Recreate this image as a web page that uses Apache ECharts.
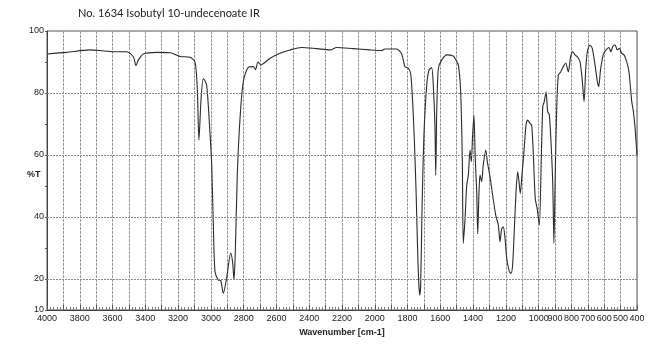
<!DOCTYPE html>
<html>
<head>
<meta charset="utf-8">
<script src="https://cdn.jsdelivr.net/npm/echarts@6/dist/echarts.min.js"></script>
<style>
html,body{margin:0;padding:0;background:#fff;}
#chart{width:650px;height:351px;}
</style>
</head>
<body>
<div id="chart"></div>
<script>
// Wavenumbers (cm-1) and transmittance (%T)
var wavenumbers = [4000,3880,3738,3677,3595,3514,3473,3457,3443,3412,3331,3250,3188,3127,3097,3083,3073,3060,3046,3026,3005,2995,2985,2975,2955,2940,2924,2904,2879,2867,2859,2851,2839,2822,2802,2772,2741,2728,2713,2694,2680,2639,2578,2517,2446,2354,2273,2232,2131,2029,1958,1938,1866,1836,1816,1796,1781,1769,1759,1748,1740,1732,1726,1720,1712,1700,1683,1669,1653,1643,1633,1628,1622,1612,1592,1561,1521,1511,1490,1476,1466,1460,1449,1439,1429,1419,1411,1403,1395,1387,1378,1372,1364,1358,1348,1338,1323,1313,1297,1281,1262,1246,1236,1226,1216,1205,1195,1179,1169,1159,1149,1138,1128,1120,1112,1102,1090,1077,1067,1053,1043,1033,1021,1008,996,984,975,966,955,945,935,925,914,907,899,890,880,866,850,835,819,805,792,778,764,748,734,723,713,703,687,673,656,642,634,622,606,589,571,559,548,534,520,508,493,479,463,449,432,422,412,400];
var transmittance = [92.6,93.1,93.9,93.7,93.3,93.3,91.7,88.8,90.6,92.6,93.1,93.0,91.8,91.5,90.0,81.5,64.8,78,84.7,82.6,66.5,56.8,37.4,22.4,19.7,19.5,15.4,20.3,28.4,25.2,19.7,28.8,53.5,72,83.7,88.3,88.5,87.5,90,89,89.5,91.2,92.8,93.9,94.7,94.3,93.9,94.7,94.3,93.9,93.7,94.2,94.2,92.6,88.5,88,86.3,77.2,65.4,48.2,32,19.1,14.8,18.1,41.7,66.5,82.6,87.4,88.2,82.6,69.7,53.5,74,88,90.6,92.3,91.9,91.2,89,80.4,58.9,31.5,39.6,50.3,53.5,61.6,57.8,66.5,72.9,58.9,48.2,34.5,48.2,53.5,51.4,56.8,61.6,57.8,53,47.1,40.6,37.4,32,36.2,36.8,33,26.7,22.4,21.8,24.5,35.3,48.2,54.6,51.4,47.6,53.5,61,69.7,71.3,70.2,69.7,61,46,42.4,37.4,58.9,75.6,77.2,80.4,74,73,64.5,50.6,31.5,53.5,75,85.8,86.8,88.5,89.6,86.8,91.7,93.3,92.3,91.7,90.1,84.1,77.2,87.5,93.3,95.5,94.4,89,83.7,82,87.7,92.3,93.9,94.7,93.3,95,95.5,93.9,94.4,92.8,92.3,90.1,86.8,77.2,74,68.8,60];
var gridLevels = [20, 40, 60, 80];
var titleText = 'No. 1634 Isobutyl 10-undecenoate IR';
var xTitle = 'Wavenumber [cm-1]';
var yTitle = '%T';

var pts = wavenumbers.map(function(w, i){ return [w, transmittance[i]]; });

var chart = echarts.init(document.getElementById('chart'), null, {renderer:'canvas'});
chart.setOption({
  animation: false,
  backgroundColor: '#fff',
  title: {
    text: titleText, left: 73, top: 3,
    textStyle: {fontFamily: 'Lato', fontSize: 11, fontWeight: 'normal', color: '#222'}
  },
  graphic: [{
    type: 'text', left: 27, top: 170,
    style: {text: yTitle, font: 'bold 9px "Liberation Sans", Arial', fill: '#222'}
  }],
  grid: {left: 47, right: 13, top: 31, bottom: 41, show: true, borderColor: '#555', borderWidth: 1},
  xAxis: {
    type: 'value', inverse: true, min: 400, max: 4000, interval: 100,
    name: xTitle, nameLocation: 'middle', nameGap: 18,
    nameTextStyle: {fontFamily: 'Liberation Sans', fontWeight: 'bold', fontSize: 9, color: '#222'},
    axisLine: {show: true, lineStyle: {color: '#444', width: 1}},
    axisTick: {show: true, inside: true, length: 5, lineStyle: {color: '#555'}},
    minorTick: {show: true, splitNumber: 5, length: 3, lineStyle: {color: '#777'}},
    axisLabel: {
      margin: 4, fontFamily: 'Liberation Sans', fontSize: 9, color: '#222',
      formatter: function(v){ if (v >= 1000) return (v % 200 === 0) ? String(v) : ''; return String(v); }
    },
    splitLine: {show: true, lineStyle: {color: '#9a9a9a', width: 1, type: [3, 1]}}
  },
  yAxis: {
    type: 'value', min: 10, max: 100, interval: 10,
    axisLine: {show: true, lineStyle: {color: '#444', width: 1}},
    axisTick: {show: true, inside: false, length: 2, lineStyle: {color: '#555'}},
    axisLabel: {
      margin: 3, fontFamily: 'Liberation Sans', fontSize: 9, color: '#222',
      formatter: function(v){ return (v === 10 || v % 20 === 0) ? String(v) : ''; }
    },
    splitLine: {show: false}
  },
  series: [{
    type: 'line', data: pts, showSymbol: false, smooth: 0.25,
    lineStyle: {color: '#2a2a2a', width: 1.1},
    markLine: {
      silent: true, symbol: ['none', 'none'], label: {show: false},
      lineStyle: {color: '#888', width: 1, type: [2, 1]},
      data: gridLevels.map(function(v){ return {yAxis: v}; })
    }
  }]
});
</script>
</body>
</html>
